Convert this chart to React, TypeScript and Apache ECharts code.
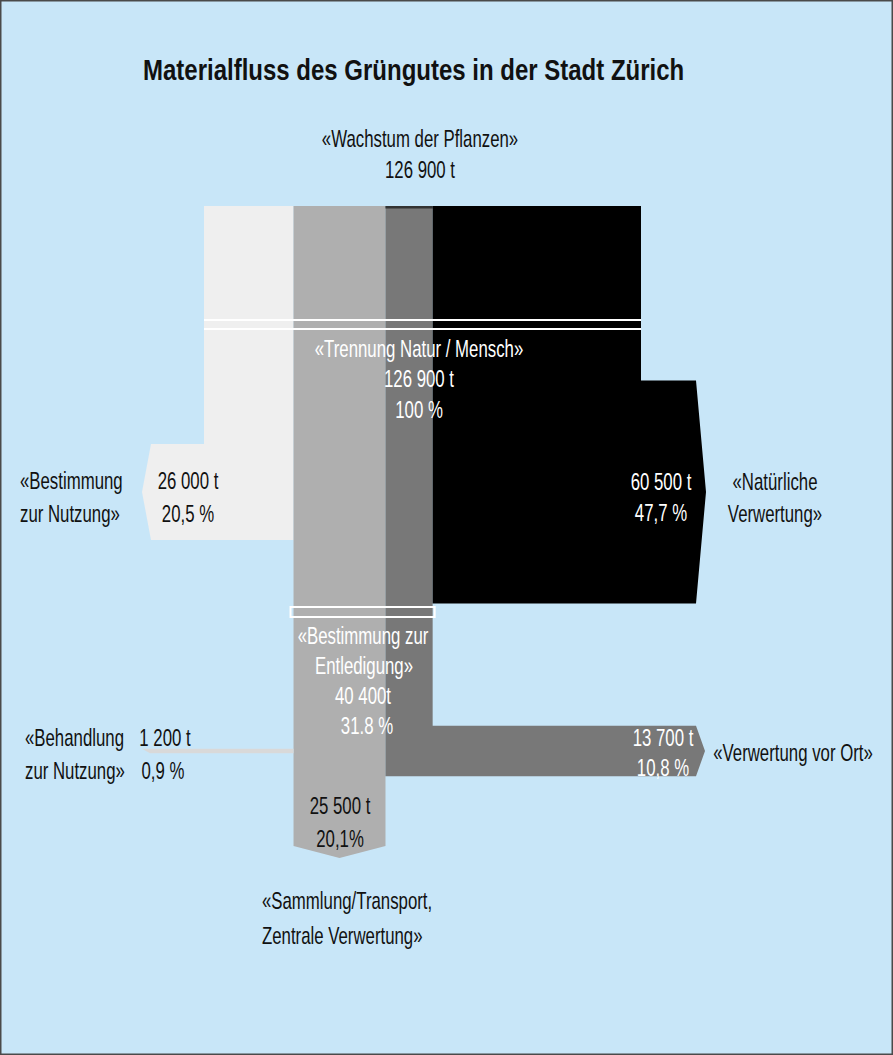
import React, { useEffect, useRef } from "react";
import * as echarts from "echarts";

// ---------- data (tonnes) ----------
const nodeNames = ["Wachstum der Pflanzen", "Trennung Natur / Mensch", "Bestimmung zur Entledigung"];
const nodeTonnes = [126900, 126900, 40400];
const nodePercents = ["", "100 %", "31.8 %"];

const flowNames = [
  "Bestimmung zur Nutzung",
  "Sammlung/Transport, Zentrale Verwertung",
  "Behandlung zur Nutzung",
  "Verwertung vor Ort",
  "Natürliche Verwertung",
];
const flowTonnes = [26000, 25500, 1200, 13700, 60500];
const flowPercents = ["20,5 %", "20,1%", "0,9 %", "10,8 %", "47,7 %"];

// ---------- layout (pixels / styles) ----------
const W = 893;
const H = 1055;
const L = {
  gridLeft: 204,
  gridRight: 252,
  top: 206,
  level1: 492,
  level2: 751,
  collectBottom: 846,
  collectTip: 858,
  sep1: 320,
  sep2: 329,
  nodeTop: 607,
  nodeBottom: 617,
  bandAspect: 1.07,
  leftReach: 53,
  rightReach: 55,
  tip: 9,
};
const COLORS = {
  bg: "#c8e6f8",
  use: "#efefef",
  collect: "#afafaf",
  treat: "#d9d9d9",
  onsite: "#787878",
  natural: "#000000",
  white: "#ffffff",
  text: "#111111",
};
const F = "'Liberation Sans', Arial, sans-serif";
const BODY_SIZE = 24;
const BODY_SCALE = 0.7;

const fmt = (n: number) => String(n).replace(/\B(?=(\d{3})+(?!\d))/g, " ");

export default function App() {
  const ref = useRef<HTMLDivElement>(null);

  useEffect(() => {
    document.body.style.margin = "0";
    if (!ref.current) return;
    const chart = echarts.init(ref.current, null, { renderer: "svg" });

    const [useT, collT, treatT, onsiteT, natT] = flowTonnes;
    const total = nodeTonnes[0];
    const c1 = useT;
    const c2 = c1 + collT + treatT;
    const c3 = c2 + onsiteT;
    const c4 = c3 + natT;

    const items = [
      [0, c1, 0],
      [c1, c2, 1],
      [c1, c1 + treatT, 2],
      [c2, c3, 3],
      [c3, c4, 4],
      [0, total, 5],
      [c1, c3, 6],
    ];

    const renderItem = (params: any, api: any) => {
      const x0 = api.value(0);
      const x1 = api.value(1);
      const kind = api.value(2);
      const xl = api.coord([x0, 0])[0];
      const xr = api.coord([x1, 0])[0];
      const top = api.coord([x0, L.top])[1];
      const thick = api.size([x1 - x0, 0])[0] * L.bandAspect;
      const leftEnd = api.coord([0, 0])[0] - L.leftReach;
      const rightEnd = api.coord([total, 0])[0] + L.rightReach;

      if (kind === 0) {
        const cy = L.level1;
        const b = cy + thick / 2;
        const t = cy - thick / 2;
        return {
          type: "polygon",
          shape: {
            points: [
              [xl, top], [xr, top], [xr, b], [leftEnd, b], [leftEnd - L.tip, cy], [leftEnd, t], [xl, t],
            ],
          },
          style: { fill: COLORS.use },
        };
      }
      if (kind === 1) {
        const mid = (xl + xr) / 2;
        return {
          type: "polygon",
          shape: {
            points: [[xl, top], [xr, top], [xr, L.collectBottom], [mid, L.collectTip], [xl, L.collectBottom]],
          },
          style: { fill: COLORS.collect },
        };
      }
      if (kind === 2) {
        const cy = L.level2;
        const h = thick;
        const end = leftEnd - L.tip;
        return {
          type: "polygon",
          shape: {
            points: [[xl, cy - h / 2], [xl, cy + h / 2], [end + 8, cy + h / 2], [end, cy - h / 2]],
          },
          style: { fill: COLORS.treat },
        };
      }
      if (kind === 3) {
        const cy = L.level2;
        const b = cy + thick / 2;
        const t = cy - thick / 2;
        return {
          type: "group",
          children: [
            {
              type: "polygon",
              shape: {
                points: [
                  [xl, top], [xr, top], [xr, t], [rightEnd, t], [rightEnd + L.tip, cy], [rightEnd, b], [xl, b],
                ],
              },
              style: { fill: COLORS.onsite },
            },
            { type: "rect", shape: { x: xl, y: top, width: xr - xl, height: 2.5 }, style: { fill: "#333333" } },
          ],
        };
      }
      if (kind === 4) {
        const cy = L.level1;
        const b = cy + thick / 2;
        const t = cy - thick / 2;
        return {
          type: "polygon",
          shape: {
            points: [
              [xl, top], [xr, top], [xr, t], [rightEnd, t], [rightEnd + L.tip + 1, cy], [rightEnd, b], [xl, b],
            ],
          },
          style: { fill: COLORS.natural },
        };
      }
      if (kind === 5) {
        return {
          type: "group",
          children: [
            { type: "rect", shape: { x: xl, y: L.sep1 - 1, width: xr - xl, height: 2 }, style: { fill: COLORS.white } },
            { type: "rect", shape: { x: xl, y: L.sep2 - 1, width: xr - xl, height: 2 }, style: { fill: COLORS.white } },
          ],
        };
      }
      // kind 6: disposal node outline
      return {
        type: "rect",
        shape: { x: xl - 3, y: L.nodeTop, width: xr - xl + 5, height: L.nodeBottom - L.nodeTop },
        style: { fill: "none", stroke: COLORS.white, lineWidth: 2 },
      };
    };

    const txt = (
      text: string,
      x: number,
      y: number,
      align: string,
      fill: string,
      size = BODY_SIZE,
      bold = false,
      scale = BODY_SCALE
    ) => ({
      type: "text",
      x,
      y,
      scaleX: scale,
      z: 10,
      style: {
        text,
        fill,
        font: `${bold ? "bold " : ""}${size}px ${F}`,
        textAlign: align,
        textVerticalAlign: "middle",
      },
    });

    const K = COLORS.text;
    const Wt = COLORS.white;
    const graphic = [
      {
        type: "rect",
        shape: { x: 0.75, y: 0.75, width: W - 1.5, height: H - 1.5 },
        style: { fill: "none", stroke: "#4a4a4a", lineWidth: 1.5 },
        z: 10,
      },
      txt("Materialfluss des Grüngutes in der Stadt Zürich", 143, 70, "left", K, 30, true, 0.8),
      txt(`«${nodeNames[0]}»`, 420, 138, "center", K),
      txt(`${fmt(nodeTonnes[0])} t`, 420, 169, "center", K),
      txt(`«${nodeNames[1]}»`, 419, 348, "center", Wt),
      txt(`${fmt(nodeTonnes[1])} t`, 419, 378, "center", Wt),
      txt(nodePercents[1], 419, 409, "center", Wt),
      txt("«Bestimmung", 20, 480, "left", K),
      txt("zur Nutzung»", 20, 513, "left", K),
      txt(`${fmt(flowTonnes[0])} t`, 188, 480, "center", K),
      txt(flowPercents[0], 188, 513, "center", K),
      txt(`${fmt(flowTonnes[4])} t`, 661, 481, "center", Wt),
      txt(flowPercents[4], 661, 512, "center", Wt),
      txt("«Natürliche", 775, 481, "center", K),
      txt("Verwertung»", 775, 513, "center", K),
      txt("«Bestimmung zur", 363, 635, "center", Wt),
      txt("Entledigung»", 364, 665, "center", Wt),
      txt(`${fmt(nodeTonnes[2])}t`, 363, 695, "center", Wt),
      txt(nodePercents[2], 367, 725, "center", Wt),
      txt("«Behandlung", 25, 737, "left", K),
      txt("zur Nutzung»", 25, 770, "left", K),
      txt(`${fmt(flowTonnes[2])} t`, 165, 737, "center", K),
      txt(flowPercents[2], 163, 770, "center", K),
      txt(`${fmt(flowTonnes[3])} t`, 663, 737, "center", Wt),
      txt(flowPercents[3], 663, 767, "center", Wt),
      txt(`«${flowNames[3]}»`, 793, 752, "center", K),
      txt(`${fmt(flowTonnes[1])} t`, 340, 805, "center", K),
      txt(flowPercents[1], 340, 838, "center", K),
      txt("«Sammlung/Transport,", 262, 900, "left", K),
      txt("Zentrale Verwertung»", 262, 935, "left", K),
    ];

    chart.setOption({
      animation: false,
      backgroundColor: COLORS.bg,
      grid: { left: L.gridLeft, right: L.gridRight, top: 0, bottom: 0 },
      xAxis: { type: "value", min: 0, max: total, show: false },
      yAxis: { type: "value", min: 0, max: H, inverse: true, show: false },
      series: [
        {
          type: "custom",
          clip: false,
          silent: true,
          encode: { x: [0, 1], y: 2 },
          data: items,
          renderItem,
        },
      ],
      graphic,
    });

    return () => chart.dispose();
  }, []);

  return <div ref={ref} style={{ width: W, height: H }} />;
}
